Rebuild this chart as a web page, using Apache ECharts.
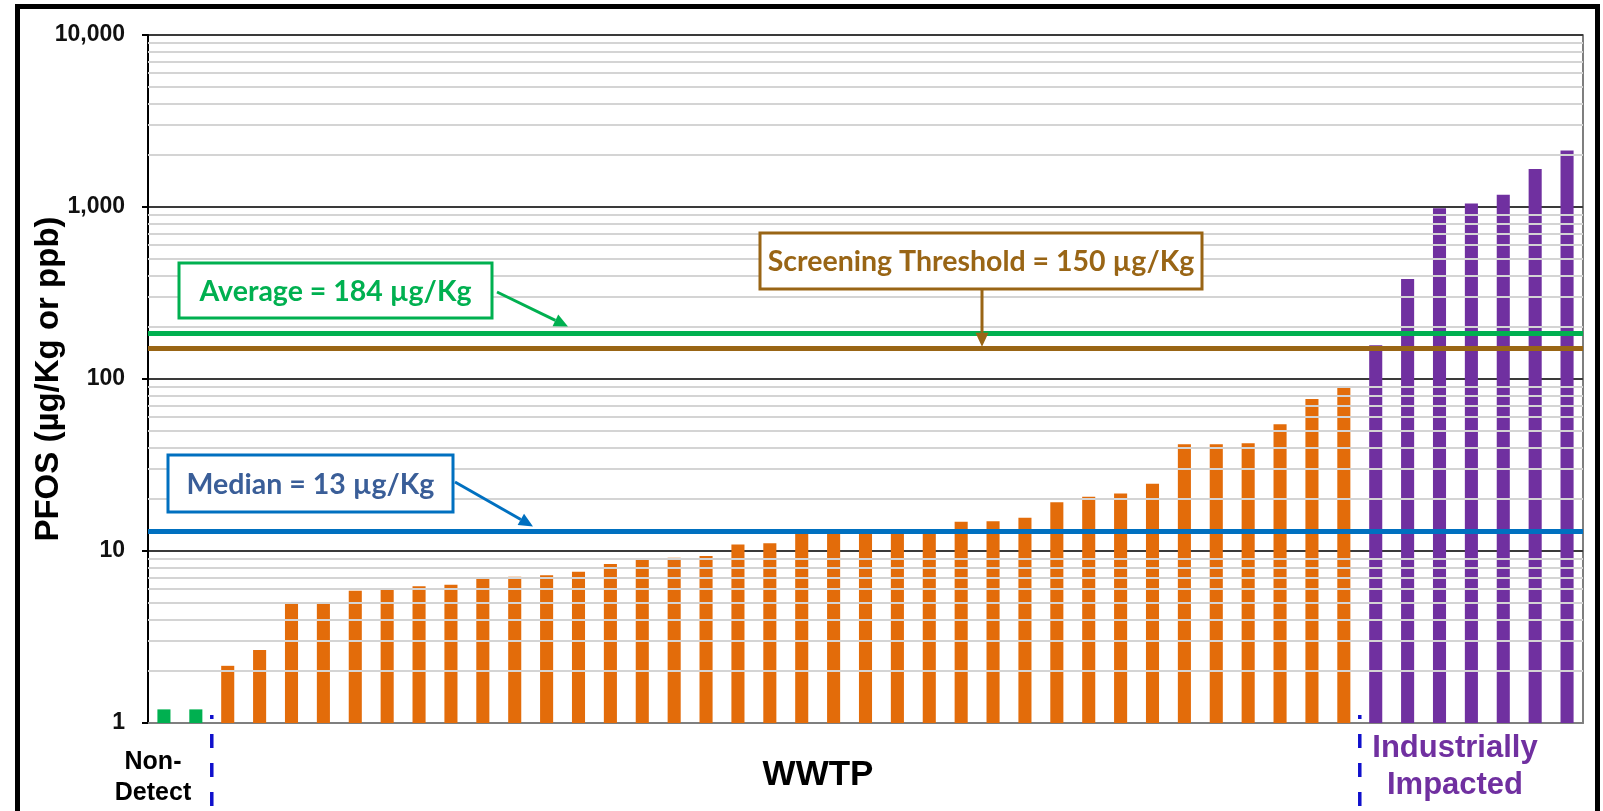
<!DOCTYPE html>
<html><head><meta charset="utf-8">
<script src="https://cdn.jsdelivr.net/npm/echarts@6/dist/echarts.min.js"></script>
<style>html,body{margin:0;padding:0;background:#fff;overflow:hidden}#c{width:1603px;height:811px}</style>
</head><body><div id="c"></div>
<script>
// ---- data (PFOS, µg/Kg) ----
const nonDetect = [1.2, 1.2];
const wwtp = [2.15, 2.66, 4.95, 5.05, 5.88, 5.96, 6.23, 6.37, 6.94, 7.09, 7.22, 7.58,
  8.4, 8.95, 9.14, 9.35, 10.9, 11.1, 12.7, 12.8, 13.0, 13.1, 13.3, 14.8, 14.9, 15.6,
  19.2, 20.7, 21.6, 24.6, 41.7, 41.7, 42.3, 54.5, 76.5, 89.5];
const industrial = [157, 382, 985, 1049, 1178, 1663, 2132];
const yTickLabels = ['1', '10', '100', '1,000', '10,000'];
const averageValue = 184;
const thresholdValue = 150;
const medianValue = 13;
const averageText = 'Average = 184 µg/Kg';
const thresholdText = 'Screening Threshold = 150 µg/Kg';
const medianText = 'Median = 13 µg/Kg';
const groupNames = ['Non-\nDetect', 'WWTP', 'Industrially\nImpacted'];
const yAxisTitle = 'PFOS (µg/Kg or ppb)';

// ---- styles ----
const GREEN = '#00B050', ORANGE = '#E36C0A', PURPLE = '#7030A0';
const BROWN = '#996515', BLUE = '#0070C0', MEDTXT = '#3A5E98';
const ARIAL = '"Liberation Sans", Arial, sans-serif';
const CAL = 'Lato, "Open Sans", sans-serif';

const all = [];
nonDetect.forEach(v => all.push({ value: v, itemStyle: { color: GREEN } }));
wwtp.forEach(v => all.push({ value: v, itemStyle: { color: ORANGE } }));
industrial.forEach(v => all.push({ value: v, itemStyle: { color: PURPLE } }));
const categories = all.map((d, i) => String(i + 1));

// minor gridlines at 2..9 of each decade
const minorLines = [];
for (let d = 1; d < 10000; d *= 10) for (let m = 2; m <= 9; m++) minorLines.push({ yAxis: m * d });

const chart = echarts.init(document.getElementById('c'), null, { renderer: 'canvas' });
chart.setOption({
  backgroundColor: '#fff',
  animation: false,
  grid: { left: 148, right: 20, top: 35, bottom: 88, show: true, borderColor: '#555', borderWidth: 1.5 },
  xAxis: {
    type: 'category', data: categories,
    axisLine: { show: true, lineStyle: { color: '#7f7f7f', width: 2 } },
    axisTick: { show: false }, axisLabel: { show: false }, splitLine: { show: false }
  },
  yAxis: {
    type: 'log', logBase: 10, min: 1, max: 10000,
    name: yAxisTitle, nameLocation: 'middle', nameRotate: 90, nameGap: 83, nameMoveOverlap: false,
    nameTextStyle: { fontFamily: ARIAL, fontWeight: 'bold', fontSize: 33, color: '#000' },
    axisLine: { show: true, lineStyle: { color: '#000', width: 2 } },
    axisTick: { show: true, inside: false, length: 6, lineStyle: { color: '#000', width: 2 } },
    axisLabel: {
      margin: 23, fontFamily: ARIAL, fontWeight: 'bold', fontSize: 23, color: '#111',
      formatter: v => yTickLabels[Math.round(Math.log10(v))]
    },
    splitLine: { show: true, lineStyle: { color: '#3a3a3a', width: 2 } },
    minorTick: { show: false }, minorSplitLine: { show: false }
  },
  series: [
    {
      type: 'line', data: [], z: 1, silent: true,
      markLine: {
        silent: true, symbol: 'none', animation: false, label: { show: false },
        lineStyle: { color: '#d4d4d4', width: 2, type: 'solid' },
        data: minorLines
      }
    },
    {
      type: 'bar', data: all, barWidth: '41%', z: 2, silent: true
    },
    {
      type: 'line', data: [], z: 5, silent: true,
      markLine: {
        silent: true, symbol: 'none', animation: false, label: { show: false },
        data: [
          { yAxis: averageValue, lineStyle: { color: GREEN, width: 5, type: 'solid' } },
          { yAxis: thresholdValue, lineStyle: { color: BROWN, width: 5, type: 'solid' } },
          { yAxis: medianValue, lineStyle: { color: BLUE, width: 5, type: 'solid' } }
        ]
      }
    }
  ]
});

function arrow(x1, y1, x2, y2, color, w) {
  const a = Math.atan2(y2 - y1, x2 - x1), L = 14, W = 6.5;
  const bx = x2 - L * Math.cos(a), by = y2 - L * Math.sin(a);
  return [
    { type: 'line', z: 20, shape: { x1, y1, x2: bx, y2: by }, style: { stroke: color, lineWidth: w } },
    { type: 'polygon', z: 20, shape: { points: [[x2, y2], [bx + W * Math.sin(a), by - W * Math.cos(a)], [bx - W * Math.sin(a), by + W * Math.cos(a)]] }, style: { fill: color } }
  ];
}
function box(x, y, w, h, color, text, tcolor, fs) {
  return [
    { type: 'rect', z: 20, shape: { x, y, width: w, height: h }, style: { fill: '#fff', stroke: color, lineWidth: 3 } },
    { type: 'text', z: 21, x: x + w / 2, y: y + h / 2 + 1, style: { text, fill: tcolor, font: 'bold ' + fs + 'px ' + CAL, align: 'center', verticalAlign: 'middle', textAlign: 'center', textVerticalAlign: 'middle' } }
  ];
}
function label(x, y, text, color, fs, lh) {
  return { type: 'text', z: 21, x, y, style: { text, fill: color, font: 'bold ' + fs + 'px ' + ARIAL, align: 'center', verticalAlign: 'middle', textAlign: 'center', textVerticalAlign: 'middle', lineHeight: lh } };
}
function dashed(x) {
  return { type: 'line', z: 21, shape: { x1: x, y1: 715, x2: x, y2: 811 }, style: { stroke: '#1010CC', lineWidth: 3.5, lineDash: [14, 15], lineDashOffset: 10 } };
}

const yAvg = chart.convertToPixel({ gridIndex: 0 }, [0, averageValue])[1];
const yThr = chart.convertToPixel({ gridIndex: 0 }, [0, thresholdValue])[1];
const yMed = chart.convertToPixel({ gridIndex: 0 }, [0, medianValue])[1];
const xc = i => chart.convertToPixel({ gridIndex: 0 }, [i, 1])[0];
const split1 = (xc(nonDetect.length - 1) + xc(nonDetect.length)) / 2;
const split2 = (xc(nonDetect.length + wwtp.length - 1) + xc(nonDetect.length + wwtp.length)) / 2;

const g = [];
g.push(...box(179, 263, 313, 55, GREEN, averageText, GREEN, 28.5));
g.push(...arrow(497, 292, 568, yAvg - 7, GREEN, 3));
g.push(...box(760, 233, 442, 56, BROWN, thresholdText, BROWN, 28.5));
g.push(...arrow(982, 289, 982, yThr - 2, BROWN, 3));
g.push(...box(168, 455, 285, 57, BLUE, medianText, MEDTXT, 28.5));
g.push(...arrow(455, 482, 533, yMed - 5, BLUE, 3));
g.push(label(153, 778, groupNames[0], '#000', 25, 31));
g.push(label(818, 775, groupNames[1], '#000', 35, 38));
g.push(label(1455, 767, groupNames[2], PURPLE, 31, 37));
g.push(dashed(split1), dashed(split2));
g.push({ type: 'rect', z: 30, shape: { x: 17.5, y: 6.5, width: 1580, height: 820 }, style: { fill: 'none', stroke: '#000', lineWidth: 5 } });
chart.setOption({ graphic: g });
</script>
</body></html>
